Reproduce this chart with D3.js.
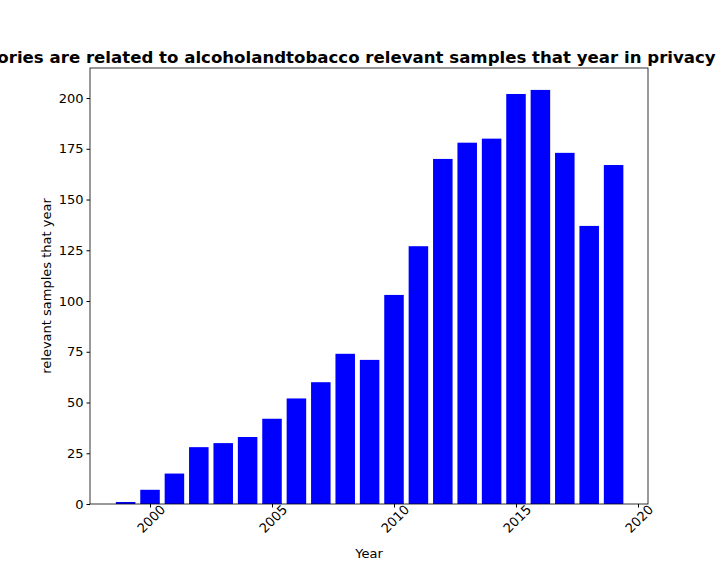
<!DOCTYPE html>
<meta charset="utf-8">
<style>
body { margin: 0; background: #fff; }
text { font-family: "DejaVu Sans", sans-serif; }
</style>
<body>
<script src="https://cdn.jsdelivr.net/npm/d3@7"></script>
<script>
var width = 720, height = 576;
var margin = {top: 68, right: 72, bottom: 72, left: 90};

var years = [1999, 2000, 2001, 2002, 2003, 2004, 2005, 2006, 2007, 2008, 2009,
             2010, 2011, 2012, 2013, 2014, 2015, 2016, 2017, 2018, 2019];
var counts = [1, 7, 15, 28, 30, 33, 42, 52, 60, 74, 71,
              103, 127, 170, 178, 180, 202, 204, 173, 137, 167];
var xTicks = [2000, 2005, 2010, 2015, 2020];
var yTicks = [0, 25, 50, 75, 100, 125, 150, 175, 200];

var svg = d3.select("body").append("svg")
    .attr("width", width)
    .attr("height", height);

var x = d3.scaleLinear()
    .domain([1997.54, 2020.41])
    .range([margin.left, width - margin.right]);
var y = d3.scaleLinear()
    .domain([0, 214.8])
    .range([height - margin.bottom, margin.top]);

svg.selectAll(".bar")
    .data(years)
    .enter().append("rect")
    .attr("class", "bar")
    .attr("x", function(d) { return x(d - 0.4); })
    .attr("width", x(0.8) - x(0))
    .attr("y", function(d, i) { return y(counts[i]); })
    .attr("height", function(d, i) { return y(0) - y(counts[i]); })
    .attr("fill", "#0000ff");

var xAxis = svg.append("g")
    .attr("transform", "translate(0," + (height - margin.bottom) + ")")
    .call(d3.axisBottom(x).tickValues(xTicks).tickFormat(d3.format("d")).tickSizeOuter(0).tickSize(3.5));
xAxis.selectAll("text")
    .style("font-size", "13px")
    .attr("text-anchor", "end")
    .attr("dx", "0.5em")
    .attr("dy", "0.7em")
    .attr("transform", "rotate(-45)");

var yAxis = svg.append("g")
    .attr("transform", "translate(" + margin.left + ",0)")
    .call(d3.axisLeft(y).tickValues(yTicks).tickSizeOuter(0).tickSize(3.5));
yAxis.selectAll("text").style("font-size", "13px");

svg.selectAll(".domain").remove();
svg.append("rect")
    .attr("x", margin.left).attr("y", margin.top)
    .attr("width", width - margin.left - margin.right)
    .attr("height", height - margin.top - margin.bottom)
    .attr("fill", "none").attr("stroke", "#000").attr("stroke-width", 0.8);

svg.append("text")
    .attr("x", (margin.left + width - margin.right) / 2)
    .attr("y", 63)
    .attr("text-anchor", "middle")
    .style("font-size", "16.6px")
    .style("font-weight", "bold")
    .text("categories are related to alcoholandtobacco relevant samples that year in privacy policies");

svg.append("text")
    .attr("x", (margin.left + width - margin.right) / 2)
    .attr("y", 558)
    .attr("text-anchor", "middle")
    .style("font-size", "13px")
    .text("Year");

svg.append("text")
    .attr("transform", "translate(51," + ((margin.top + height - margin.bottom) / 2) + ") rotate(-90)")
    .attr("text-anchor", "middle")
    .style("font-size", "13px")
    .text("relevant samples that year");
</script>
</body>
